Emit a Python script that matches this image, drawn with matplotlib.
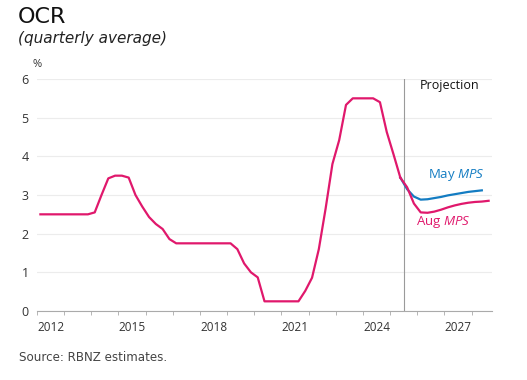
import numpy as np
import matplotlib
matplotlib.use("Agg")
import matplotlib.pyplot as plt

# OCR quarterly averages, 2012 Q1 - 2025 Q2
ocr_hist = [2.5, 2.5, 2.5, 2.5,
            2.5, 2.5, 2.5, 2.5,
            2.55, 3.0, 3.43, 3.5,
            3.5, 3.45, 3.0, 2.7,
            2.43, 2.25, 2.12, 1.86,
            1.75, 1.75, 1.75, 1.75,
            1.75, 1.75, 1.75, 1.75,
            1.75, 1.6, 1.23, 1.0,
            0.87, 0.25, 0.25, 0.25,
            0.25, 0.25, 0.25, 0.52,
            0.86, 1.6, 2.65, 3.8,
            4.42, 5.33, 5.5, 5.5,
            5.5, 5.5, 5.4, 4.63,
            4.05, 3.45]
# projections from 2025 Q3
aug_mps = [3.2, 2.78, 2.55, 2.54, 2.57, 2.62, 2.68, 2.73, 2.77, 2.8, 2.82, 2.83, 2.85]
may_mps = [3.15, 2.96, 2.88, 2.89, 2.92, 2.95, 2.99, 3.02, 3.05, 3.08, 3.10, 3.12]
first_quarter = 2012.125
projection_start = 2025.5
year_labels = [2012, 2015, 2018, 2021, 2024, 2027]

PINK = "#e0186c"
BLUE = "#137cc2"
HEAD = ["DejaVu Sans"]

plt.rcParams["font.family"] = ["Open Sans", "DejaVu Sans"]
plt.rcParams["mathtext.fontset"] = "custom"
plt.rcParams["mathtext.rm"] = "Open Sans"
plt.rcParams["mathtext.it"] = "Open Sans:italic"

x_hist = first_quarter + 0.25 * np.arange(len(ocr_hist))
x_last = x_hist[-1]
x_aug = np.concatenate([[x_last], x_last + 0.25 * np.arange(1, len(aug_mps) + 1)])
x_may = np.concatenate([[x_last], x_last + 0.25 * np.arange(1, len(may_mps) + 1)])
y_aug = [ocr_hist[-1]] + aug_mps
y_may = [ocr_hist[-1]] + may_mps

fig = plt.figure(figsize=(5.27, 3.80), dpi=100)
ax = fig.add_axes([0.0702, 0.1816, 0.8634, 0.6105])

ax.plot(x_may, y_may, color=BLUE, lw=1.6, solid_joinstyle="round", zorder=3)
ax.plot(x_hist, ocr_hist, color=PINK, lw=1.6, solid_joinstyle="round", zorder=4)
ax.plot(x_aug, y_aug, color=PINK, lw=1.6, solid_joinstyle="round", zorder=4)
ax.axvline(projection_start, color="#9a9a9a", lw=0.8, zorder=2)

ax.set_xlim(2012, 2028.75)
ax.set_ylim(0, 6)
ax.set_yticks(range(0, 7))
ax.yaxis.grid(True, color="#ececec", lw=0.8)
ax.set_axisbelow(True)
ax.tick_params(axis="y", length=0, pad=6, labelsize=9, labelcolor="#333333")

ax.set_xticks(np.arange(2012, 2029), minor=True)
ax.set_xticks([y + 0.5 for y in year_labels])
ax.set_xticklabels([str(y) for y in year_labels])
ax.tick_params(axis="x", which="major", length=0, pad=7, labelsize=8.5, labelcolor="#333333")
ax.tick_params(axis="x", which="minor", length=3, width=0.6, color="#aaaaaa", direction="out")

for s in ["top", "right", "left"]:
    ax.spines[s].set_visible(False)
ax.spines["bottom"].set_color("#aaaaaa")
ax.spines["bottom"].set_linewidth(0.8)

ax.text(-0.01, 1.04, "%", transform=ax.transAxes, fontsize=8, color="#333333", ha="left", va="bottom")
ax.text(2027.2, 5.82, "Projection", fontsize=9, color="#111111", ha="center", va="center")
ax.text(2026.38, 3.53, r"May $\mathit{MPS}$", fontsize=9.5, color=BLUE, ha="left", va="center")
ax.text(2025.97, 2.29, r"Aug $\mathit{MPS}$", fontsize=9.5, color=PINK, ha="left", va="center")

fig.text(0.034, 0.94, "OCR", fontsize=16, family=HEAD, color="#111111", ha="left", va="baseline")
fig.text(0.034, 0.887, "(quarterly average)", fontsize=11, family=HEAD, style="italic",
         color="#222222", ha="left", va="baseline")
fig.text(0.037, 0.05, "Source: RBNZ estimates.", fontsize=8.6, family=HEAD, color="#444444",
         ha="left", va="baseline")

fig.savefig("out.png", dpi=100)
